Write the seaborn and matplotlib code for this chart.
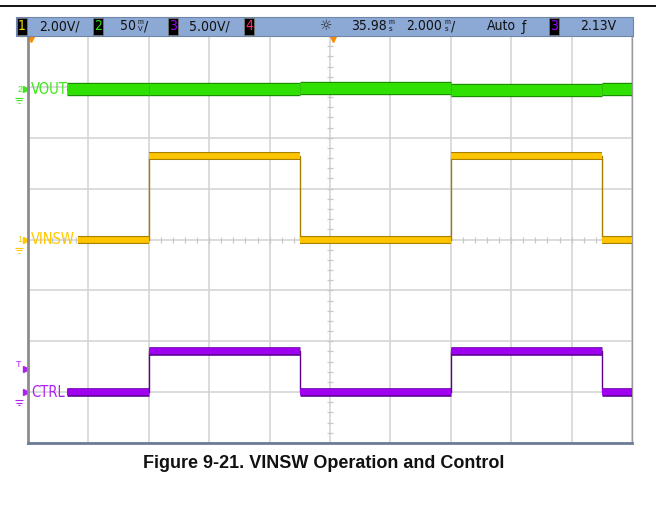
import numpy as np
import pandas as pd
import matplotlib
matplotlib.use("Agg")
import matplotlib.pyplot as plt
import matplotlib.patheffects as pe
from matplotlib.patches import Rectangle
import seaborn as sns

# scope settings
time_per_div = 2.0          # ms/div
edge_times = [-6.0, -1.0, 4.0, 9.0]   # ms, where VINSW / CTRL toggle
t_end = 10.0

vinsw_levels = [0.0, 3.3, 0.0, 3.3, 0.0]      # V, ch1 2.00 V/div
ctrl_levels = [0.0, 4.0, 0.0, 4.0, 0.0]       # V, ch3 5.00 V/div
vout_levels = [0.0, 0.0, 1.5, -0.5, 0.5]      # mV (AC), ch2 50 mV/div

channels = {
    # name: (levels, volts/div, ground position in div, trace start ms, colour, edge colour, width)
    "VOUT": (vout_levels, 50.0, 2.95, -8.7, "#2fe000", "#178a00", 8.0),
    "VINSW": (vinsw_levels, 2.0, 0.0, -8.35, "#ffc400", "#a88000", 4.2),
    "CTRL": (ctrl_levels, 5.0, -3.0, -8.7, "#a000f0", "#5c0090", 4.6),
}


def segments(levels, scale, ground, start):
    bounds = [start] + edge_times + [t_end]
    rows = []
    for i, lv in enumerate(levels):
        d = lv / scale + ground
        rows.append((i, bounds[i], d))
        rows.append((i, bounds[i + 1], d))
    return pd.DataFrame(rows, columns=["seg", "t", "div"])


W, H = 656, 512


def fx(x):
    return x / W


def fy(y):
    return 1 - y / H


sns.set_style("white")
plt.rcParams["font.family"] = ["Liberation Sans", "DejaVu Sans"]
scope_font = dict(family=["DejaVu Sans"], fontstretch="condensed")

fig = plt.figure(figsize=(6.56, 5.12), dpi=100)
ax = fig.add_axes([fx(28), fy(443), 604 / W, 407 / H])

# graticule
ax.set_xlim(-10, 10)
ax.set_ylim(-4, 4)
ax.set_xticks(np.arange(-10, 11, time_per_div))
ax.set_yticks(np.arange(-4, 5, 1))
ax.grid(True, color="#d2d2d2", lw=1.1)
ax.tick_params(length=0, labelbottom=False, labelleft=False)
ax.set_axisbelow(True)
ax.plot(np.arange(-10, 10.01, 0.4), np.zeros(51), ls="none", marker="|",
        ms=4, color="#c8c8c8", mew=0.9)
ax.plot(np.zeros(41), np.arange(-4, 4.01, 0.2), ls="none", marker="_",
        ms=4, color="#c8c8c8", mew=0.9)
ax.spines["top"].set_visible(False)
ax.spines["left"].set_color("#8c8c8c")
ax.spines["left"].set_linewidth(2.0)
ax.spines["right"].set_color("#9a9a9a")
ax.spines["right"].set_linewidth(1.0)
ax.spines["bottom"].set_color("#6c7c96")
ax.spines["bottom"].set_linewidth(2.0)

# traces
for name, (levels, scale, ground, start, col, dark, lw) in channels.items():
    df = segments(levels, scale, ground, start)
    sns.lineplot(data=df, x="t", y="div", drawstyle="steps-post", sort=False,
                 estimator=None, color=dark, lw=1.0, ax=ax, zorder=3)
    sns.lineplot(data=df, x="t", y="div", units="seg", estimator=None,
                 color=col, lw=lw, ax=ax, zorder=4, solid_capstyle="butt",
                 path_effects=[pe.Stroke(linewidth=lw + 1.6, foreground=dark),
                               pe.Normal()])
ax.set_xlabel("")
ax.set_ylabel("")

# channel labels on the screen
label_t = -9.9
ax.text(label_t, 2.95, "VOUT", color="#3ee81a", fontsize=10.5, va="center",
        ha="left", zorder=6, **scope_font)
ax.text(label_t, 0.0, "VINSW", color="#ffc800", fontsize=10.5, va="center",
        ha="left", zorder=6, **scope_font)
ax.text(label_t, -3.0, "CTRL", color="#b020f0", fontsize=10.5, va="center",
        ha="left", zorder=6, **scope_font)

# ground / trigger markers left of the screen
marks = [("2", 2.95, "#3ee81a"), ("1", 0.0, "#ffc800"), ("", -3.0, "#b020f0")]
for lab, yd, col in marks:
    ax.text(-10.18, yd, lab, color=col, fontsize=6.5, ha="right", va="center",
            clip_on=False)
    ax.plot([-10.08], [yd], marker=">", ms=4.5, color=col, clip_on=False)
    for k, ms in enumerate([6, 4, 2]):
        ax.plot([-10.3], [yd - 0.16 - 0.05 * k], marker="_", ms=ms, mew=0.8,
                color=col, clip_on=False)
ax.text(-10.3, -2.45, "T", color="#b020f0", fontsize=6.5, ha="center",
        va="center", clip_on=False)
ax.plot([-10.08], [-2.55], marker=">", ms=4.5, color="#b020f0", clip_on=False)

# orange time markers under the header
ax.plot([-9.9], [3.95], marker="v", ms=4, color="#ff8c00", clip_on=False)
ax.plot([0.1], [3.95], marker="v", ms=4, color="#ff8c00", clip_on=False)

# top rule and header bar
fig.add_artist(plt.Line2D([0, 1], [fy(6), fy(6)], color="black", lw=1.3))
fig.add_artist(Rectangle((fx(16), fy(36)), 617 / W, 19 / H,
                         facecolor="#8ca8d4", edgecolor="#6f86aa", lw=0.8))

boxes = [(17, "1", "#f0e000"), (93, "2", "#30e000"), (168, "3", "#a000ff"),
         (244, "4", "#ff2a6a"), (549, "3", "#a000ff")]
for x0, lab, col in boxes:
    fig.add_artist(Rectangle((fx(x0), fy(35)), 10 / W, 17 / H,
                             facecolor="black", edgecolor="#777777", lw=0.6))
    fig.text(fx(x0 + 5), fy(26.5), lab, color=col, fontsize=10,
             ha="center", va="center", **scope_font)

hdr = dict(color="#111111", fontsize=10, va="center", **scope_font)
small = dict(color="#111111", fontsize=5, va="center", ha="center")
fig.text(fx(39), fy(26.5), "2.00V/", ha="left", **hdr)
fig.text(fx(120), fy(26.5), "50", ha="left", **hdr)
fig.text(fx(140), fy(23), "m", **small)
fig.text(fx(140), fy(29.5), "V", **small)
fig.text(fx(144), fy(26.5), "/", ha="left", **hdr)
fig.text(fx(189), fy(26.5), "5.00V/", ha="left", **hdr)
fig.text(fx(326), fy(26.5), "☼", ha="center", color="#222222", fontsize=10,
         va="center", family=["DejaVu Sans"])
fig.text(fx(351), fy(26.5), "35.98", ha="left", **hdr)
fig.text(fx(391), fy(23), "m", **small)
fig.text(fx(391), fy(29.5), "s", **small)
fig.text(fx(406), fy(26.5), "2.000", ha="left", **hdr)
fig.text(fx(447), fy(23), "m", **small)
fig.text(fx(447), fy(29.5), "s", **small)
fig.text(fx(451), fy(26.5), "/", ha="left", **hdr)
fig.text(fx(487), fy(26.5), "Auto", ha="left", **hdr)
fig.text(fx(524), fy(26.5), "ƒ", ha="center", **hdr)
fig.text(fx(580), fy(26.5), "2.13V", ha="left", **hdr)

# caption
fig.text(fx(324), fy(464), "Figure 9-21. VINSW Operation and Control",
         ha="center", va="center", fontsize=13, fontweight="bold",
         color="#111111")

fig.savefig("out.png", dpi=100)
